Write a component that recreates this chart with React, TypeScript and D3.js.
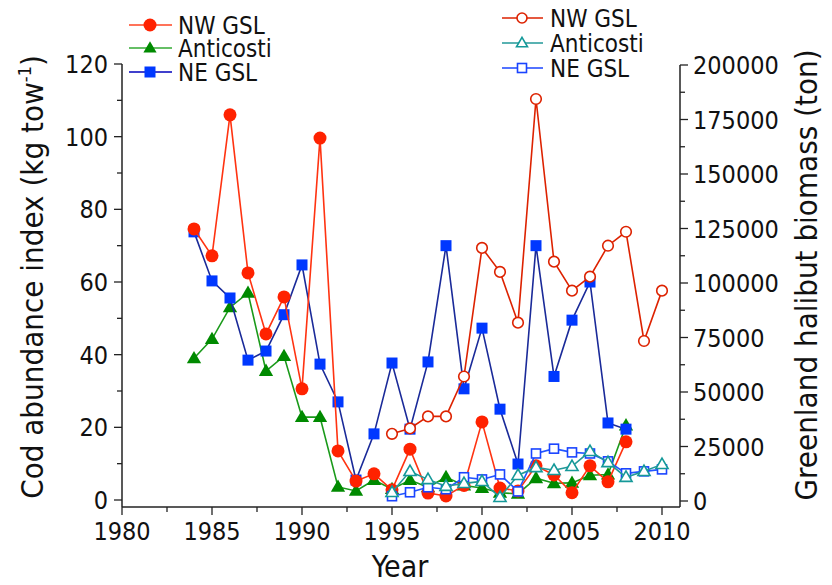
import { useEffect, useRef } from 'react';
import * as d3 from 'd3';

// Cod abundance index (kg tow-1), left axis
const codYears = d3.range(1984, 2009);
const codNW = [74.6, 67.2, 106, 62.5, 45.7, 55.9, 30.6, 99.6, 13.5, 5.2, 7.2, 2.8, 14, 1.9, 1.1, 4, 21.5, 3.3, 2.5, 9.4, 6.9, 2, 9.4, 5, 16];
const codAnticosti = [39, 44.3, 53, 57, 35.5, 39.6, 22.8, 22.8, 3.6, 2.5, 5.5, 3, 5.5, 3.5, 6.3, 4, 3.3, 2, 1.7, 6, 4.6, 4.7, 6.8, 7, 20.5];
const codNE = [73.8, 60.3, 55.6, 38.5, 41, 51, 64.7, 37.4, 27, 5.5, 18.2, 37.7, 19.5, 38, 70, 30.6, 47.3, 25, 9.9, 70, 34, 49.5, 60, 21.2, 19.5];

// Greenland halibut biomass (ton), right axis
const halYears = d3.range(1995, 2011);
const halNW = [30800, 33300, 38800, 38800, 57100, 116100, 105100, 81800, 184400, 109800, 96500, 102900, 117100, 123500, 73400, 96500];
const halAnticosti = [4000, 13600, 9900, 6800, 8100, 9000, 1700, 11800, 15400, 14100, 15900, 22800, 17700, 10900, 13600, 16800];
const halNE = [2200, 4000, 6300, 5400, 10900, 9900, 12200, 4400, 21800, 24000, 22300, 21800, 18200, 12700, 13600, 14500];

const xTicks = [1980, 1985, 1990, 1995, 2000, 2005, 2010];
const leftTicks = [0, 20, 40, 60, 80, 100, 120];
const rightTicks = [0, 25000, 50000, 75000, 100000, 125000, 150000, 175000, 200000];

const codLegend = ['NW GSL', 'Anticosti', 'NE GSL'];
const halLegend = ['NW GSL', 'Anticosti', 'NE GSL'];

const FONT = "'DejaVu Sans Condensed', 'DejaVu Sans', sans-serif";

type Marker = 'circle' | 'triangle' | 'square';

export default function App() {
  const svgRef = useRef<SVGSVGElement>(null);

  useEffect(() => {
    if (!svgRef.current) return;
    const width = 832;
    const height = 585;
    const svg = d3.select(svgRef.current);
    svg.selectAll('*').remove();
    svg.attr('width', width).attr('height', height).style('font-family', FONT);

    const left = 122;
    const right = 680;
    const bottom = 507;

    const x = d3.scaleLinear().domain([1980, 2011]).range([left, right]);
    const yL = d3.scaleLinear().domain([0, 120]).range([500, 64]);
    const yR = d3.scaleLinear().domain([0, 200000]).range([501, 65]);

    // frame lines (no top border)
    const axisColor = '#222';
    svg.append('line').attr('x1', left).attr('x2', right).attr('y1', bottom).attr('y2', bottom)
      .attr('stroke', axisColor).attr('stroke-width', 1.5);
    svg.append('line').attr('x1', left).attr('x2', left).attr('y1', yL(120)).attr('y2', bottom)
      .attr('stroke', axisColor).attr('stroke-width', 1.5);
    svg.append('line').attr('x1', right).attr('x2', right).attr('y1', yR(200000)).attr('y2', bottom)
      .attr('stroke', axisColor).attr('stroke-width', 1.5);

    // x ticks
    d3.range(1980, 2011.1, 2.5).forEach((t) => {
      const major = t % 5 === 0;
      svg.append('line').attr('x1', x(t)).attr('x2', x(t)).attr('y1', bottom).attr('y2', bottom + (major ? 8 : 5))
        .attr('stroke', axisColor).attr('stroke-width', 1.3);
    });
    svg.append('g').selectAll('text').data(xTicks).join('text')
      .attr('x', (d) => x(d)).attr('y', 540).attr('text-anchor', 'middle')
      .attr('font-size', 25).attr('fill', '#111').text((d) => d);

    // left ticks
    d3.range(0, 121, 10).forEach((t) => {
      const major = t % 20 === 0;
      svg.append('line').attr('x1', left).attr('x2', left - (major ? 8 : 5)).attr('y1', yL(t)).attr('y2', yL(t))
        .attr('stroke', axisColor).attr('stroke-width', 1.3);
    });
    svg.append('g').selectAll('text').data(leftTicks).join('text')
      .attr('x', 108).attr('y', (d) => yL(d) + 9).attr('text-anchor', 'end')
      .attr('font-size', 25).attr('fill', '#111').text((d) => d);

    // right ticks
    d3.range(0, 200001, 12500).forEach((t) => {
      const major = t % 25000 === 0;
      svg.append('line').attr('x1', right).attr('x2', right + (major ? 8 : 5)).attr('y1', yR(t)).attr('y2', yR(t))
        .attr('stroke', axisColor).attr('stroke-width', 1.3);
    });
    svg.append('g').selectAll('text').data(rightTicks).join('text')
      .attr('x', 693).attr('y', (d) => yR(d) + 9).attr('text-anchor', 'start')
      .attr('font-size', 25).attr('fill', '#111').text((d) => d);

    // axis titles
    const lt = svg.append('text').attr('transform', 'translate(43,277) rotate(-90)')
      .attr('text-anchor', 'middle').attr('font-size', 31).attr('fill', '#111');
    lt.append('tspan').text('Cod abundance index (kg tow');
    lt.append('tspan').attr('font-size', 18).attr('dy', -12).text('-1');
    lt.append('tspan').attr('dy', 12).text(')');

    svg.append('text').attr('transform', 'translate(817,275) rotate(-90)')
      .attr('text-anchor', 'middle').attr('font-size', 31).attr('fill', '#111')
      .text('Greenland halibut biomass (ton)');

    svg.append('text').attr('x', 400).attr('y', 577).attr('text-anchor', 'middle')
      .attr('font-size', 30).attr('fill', '#111').text('Year');

    const drawMarker = (g: d3.Selection<SVGGElement, unknown, null, undefined>, cx: number, cy: number,
      kind: Marker, color: string, filled: boolean, size: number) => {
      const fill = filled ? color : '#fff';
      const sw = filled ? 0 : 1.6;
      if (kind === 'circle') {
        g.append('circle').attr('cx', cx).attr('cy', cy).attr('r', size)
          .attr('fill', fill).attr('stroke', color).attr('stroke-width', sw);
      } else if (kind === 'square') {
        g.append('rect').attr('x', cx - size).attr('y', cy - size).attr('width', size * 2).attr('height', size * 2)
          .attr('fill', fill).attr('stroke', color).attr('stroke-width', sw);
      } else {
        const h = size * 1.9;
        const w = size * 1.1;
        g.append('path')
          .attr('d', `M${cx},${cy - h * 0.6}L${cx + w},${cy + h * 0.4}L${cx - w},${cy + h * 0.4}Z`)
          .attr('fill', fill).attr('stroke', color).attr('stroke-width', sw);
      }
    };

    const series = (years: number[], vals: number[], y: d3.ScaleLinear<number, number>,
      lineColor: string, markColor: string, kind: Marker, filled: boolean, size: number) => {
      const g = svg.append('g');
      const line = d3.line<number>().x((_, i) => x(years[i])).y((d) => y(d));
      g.append('path').attr('d', line(vals)).attr('fill', 'none')
        .attr('stroke', lineColor).attr('stroke-width', 1.6);
      vals.forEach((v, i) => drawMarker(g, x(years[i]), y(v), kind, markColor, filled, size));
    };

    // cod (filled)
    series(codYears, codAnticosti, yL, '#1a9a1a', '#008a00', 'triangle', true, 6.5);
    series(codYears, codNE, yL, '#1a2a99', '#0038ff', 'square', true, 5.5);
    series(codYears, codNW, yL, '#ff3311', '#ff2200', 'circle', true, 6.5);

    // halibut (open)
    series(halYears, halNE, yR, '#2255ff', '#1a44ff', 'square', false, 4.5);
    series(halYears, halAnticosti, yR, '#229999', '#159999', 'triangle', false, 5.5);
    series(halYears, halNW, yR, '#dd2200', '#dd2200', 'circle', false, 5.3);

    // legends
    const legCod = [
      { line: '#ff4422', color: '#ff2200', kind: 'circle' as Marker, size: 6.5 },
      { line: '#33aa33', color: '#008a00', kind: 'triangle' as Marker, size: 6 },
      { line: '#0000bb', color: '#0038ff', kind: 'square' as Marker, size: 5.5 },
    ];
    const legRows = [25, 48, 72];
    const lg = svg.append('g');
    codLegend.forEach((name, i) => {
      const cy = legRows[i];
      lg.append('line').attr('x1', 129).attr('x2', 172).attr('y1', cy).attr('y2', cy)
        .attr('stroke', legCod[i].line).attr('stroke-width', 1.6);
      drawMarker(lg, 150, cy, legCod[i].kind, legCod[i].color, true, legCod[i].size);
      lg.append('text').attr('x', 178).attr('y', cy + 9).attr('font-size', 24).attr('fill', '#111').text(name);
    });

    const legHal = [
      { line: '#dd2200', color: '#dd2200', kind: 'circle' as Marker, size: 5 },
      { line: '#229999', color: '#159999', kind: 'triangle' as Marker, size: 5 },
      { line: '#1a44ff', color: '#1a44ff', kind: 'square' as Marker, size: 4.5 },
    ];
    const halRows = [18, 43, 68];
    halLegend.forEach((name, i) => {
      const cy = halRows[i];
      lg.append('line').attr('x1', 502).attr('x2', 543).attr('y1', cy).attr('y2', cy)
        .attr('stroke', legHal[i].line).attr('stroke-width', 1.6);
      drawMarker(lg, 522, cy, legHal[i].kind, legHal[i].color, false, legHal[i].size);
      lg.append('text').attr('x', 550).attr('y', cy + 9).attr('font-size', 24).attr('fill', '#111').text(name);
    });
  }, []);

  return <svg ref={svgRef} style={{ position: 'absolute', left: 0, top: 0, background: '#fff' }} />;
}
